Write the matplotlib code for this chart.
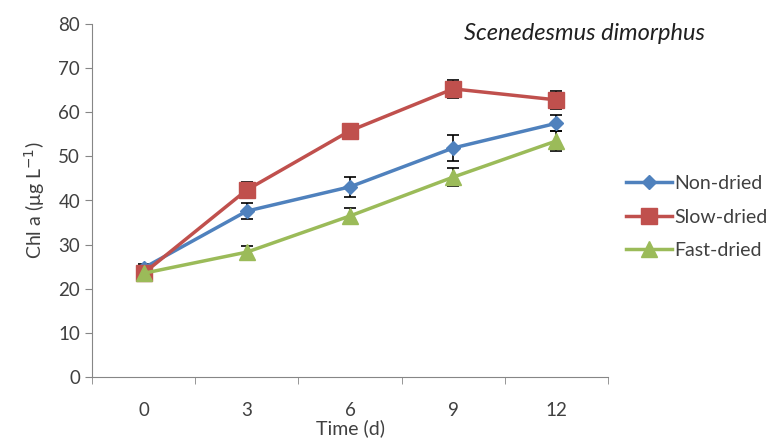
import numpy as np
import matplotlib
matplotlib.use("Agg")
import matplotlib.pyplot as plt
from matplotlib.lines import Line2D

plt.rcParams['font.family'] = ['Lato', 'DejaVu Sans']

# data
days = ["0", "3", "6", "9", "12"]
non_dried = [24.7, 37.6, 43.1, 51.9, 57.5]
non_dried_err = [0.8, 1.8, 2.3, 3.0, 1.8]
slow_dried = [23.5, 42.4, 55.8, 65.3, 62.8]
slow_dried_err = [0.8, 1.8, 1.5, 2.0, 2.0]
fast_dried = [23.5, 28.3, 36.5, 45.3, 53.5]
fast_dried_err = [0.8, 1.4, 1.8, 2.0, 2.3]

fig = plt.figure(figsize=(7.68, 4.38), dpi=100)
ax = fig.add_axes([92 / 768, 1 - 377 / 438, (608 - 92) / 768, (377 - 24) / 438])

x = np.arange(len(days))
series = [
    ("Non-dried", non_dried, non_dried_err, "#4F81BD", "D", 7),
    ("Slow-dried", slow_dried, slow_dried_err, "#C0504D", "s", 11),
    ("Fast-dried", fast_dried, fast_dried_err, "#9BBB59", "^", 11),
]
handles = []
for name, vals, err, col, mk, ms in series:
    ax.errorbar(x, vals, yerr=err, color=col, marker=mk, markersize=ms, lw=2.5,
                ecolor="black", elinewidth=1.2, capsize=4, capthick=1.2)
    handles.append(Line2D([], [], color=col, marker=mk, markersize=ms, lw=2.5, label=name))

ax.set_xlim(-0.5, 4.5)
ax.set_ylim(0, 80)
ax.set_yticks(range(0, 81, 10))
ax.set_xticks(x)
ax.set_xticklabels(days)
ax.set_xticks(np.arange(-0.5, 4.6, 1), minor=True)
ax.tick_params(axis="x", which="major", length=0, pad=18, labelsize=13.5, colors="#404040")
ax.tick_params(axis="x", which="minor", length=5, direction="out", color="#868686")
ax.tick_params(axis="y", length=5, direction="out", color="#868686", labelsize=13.5, labelcolor="#404040")
for s in ["top", "right"]:
    ax.spines[s].set_visible(False)
for s in ["left", "bottom"]:
    ax.spines[s].set_color("#868686")

ax.set_ylabel("Chl a (\u03bcg L$^{-1}$)", fontsize=14, color="#404040", labelpad=8)
fig.text(350 / 768, 1 - 428 / 438, "Time (d)", ha="center", va="center", fontsize=14, color="#404040")
fig.text(584 / 768, 1 - 34 / 438, "Scenedesmus dimorphus", ha="center", va="center",
         fontsize=17, style="italic", color="#202020")

leg = ax.legend(handles=handles, loc="center left", bbox_to_anchor=(618 / 768, 1 - 217 / 438),
                bbox_transform=fig.transFigure, frameon=False, fontsize=14,
                handlelength=2.4, handletextpad=0.1, labelspacing=0.85, borderaxespad=0)
for t in leg.get_texts():
    t.set_color("#404040")

fig.savefig("out.png", dpi=100)
